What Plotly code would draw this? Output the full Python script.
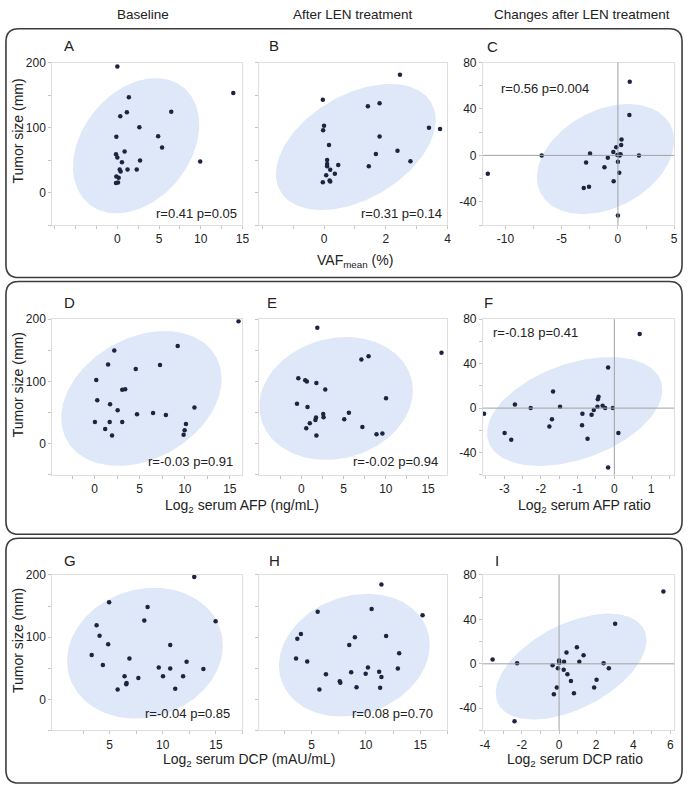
import numpy as np
import plotly.graph_objects as go

W, H = 692, 786

# ---------------- data ----------------
A_x = [0, 13.9, 1.38, 1.14, 0.35, 6.46, 2.64, -0.12, 4.89, 5.36, 0.87, -0.16, 0, 2.72, 0.55, 9.93, 0.28, 0.39, 1.22, 2.32, -0.12, 0.16, 0.08, -0.16]
A_y = [193.9, 153.2, 146.6, 123.3, 117.2, 124.3, 100.5, 85.7, 86.7, 69.4, 63.3, 58.7, 53.7, 49.1, 46.5, 47.6, 35.4, 32.3, 35.4, 35.4, 24.7, 22.7, 15.5, 14.5]

B_x = [2.46, -0.04, 1.42, 1.80, 0, -0.03, 3.40, 3.76, 1.80, 0.16, 1.68, 2.38, 0.1, 2.80, 0.1, 0.46, 0.1, 1.45, 0.2, 0.35, 0.07, -0.04, 0.18, 0.2]
B_y = [181.3, 142.8, 132.9, 137.5, 102.9, 95.9, 99.8, 97.9, 86.1, 73, 59.3, 64.3, 50.1, 48, 44, 42.5, 40.4, 40.4, 34.9, 28.8, 26.7, 16, 18.6, 17.1]

C_x = [1.05, 1.02, -11.57, -6.78, 0.32, 0.29, -0.15, -0.41, -2.48, -0.9, 0.09, 0.23, 0.15, 1.87, -2.83, 0, -1.2, 0.12, -0.38, -2.57, -3.04, 0, -0.05]
C_y = [63.5, 34.8, -15.9, 0, 13.7, 8.9, 6.9, 2.9, 1.7, -2, 0.6, 0.9, -0.2, 0, -6.2, -5.4, -10.2, -15, -22.2, -27, -28.2, -51.7, 0.3]

D_x = [15.96, 9.21, 2.18, 1.49, 7.25, 4.56, 0.18, 3.06, 3.39, 0.29, 1.71, 11.07, 2.55, 4.7, 6.48, 7.9, 0.03, 1.67, 3.06, 10.13, 1.17, 9.98, 9.87, 1.93]
D_y = [196.5, 157, 149.5, 127.2, 126.3, 119.9, 102.4, 86.5, 87.4, 69.9, 63.5, 58.3, 53.5, 47.1, 49.2, 46, 34.9, 34.9, 34.9, 31.7, 23.7, 21.7, 14.2, 13.2]

E_x = [1.88, 16.59, 7.1, 7.95, -0.37, 0.45, 0.64, 1.77, 2.82, 10.02, -0.53, 0.72, 2.58, 2.62, 5.62, 5.07, 1.73, 1.65, 0.99, 7.22, 0.57, 8.89, 9.59, 1.77]
E_y = [186.2, 145.9, 135.2, 140.6, 105, 101.8, 99.7, 97.6, 87, 73.1, 64.2, 58.8, 47.6, 42.4, 49.8, 39.2, 41.9, 38.1, 32.8, 26.9, 24.8, 15.3, 16.4, 13.2]

F_x = [0.69, -0.17, -1.67, -0.43, -0.45, -2.71, -2.28, -1.48, -0.32, -0.46, -0.25, -0.04, -0.56, -3.55, -0.87, -0.62, -1.7, -0.88, -1.77, -2.99, 0.11, -0.73, -2.81, -0.17]
F_y = [66.6, 36.6, 14.9, 10.2, 8, 3.3, 0, 1.3, 2.2, 1.3, 0, 0, -1.8, -5, -5, -5.9, -10.1, -15.4, -16.6, -22.5, -22.5, -27.6, -28.5, -53.5]

G_x = [12.96, 4.95, 8.57, 14.97, 8.26, 3.77, 4.05, 4.86, 10.7, 3.31, 6.86, 12.24, 4.36, 9.62, 10.7, 13.82, 6.4, 7.7, 10.02, 11.91, 6.59, 6.56, 5.75, 11.17]
G_y = [196.8, 155.9, 148.6, 125.6, 126.8, 119.3, 102.4, 88.5, 87.4, 71.5, 65.8, 60.4, 55.1, 51.4, 49.8, 48.7, 37.1, 34.4, 37.1, 37.1, 26.4, 24.4, 15.8, 16.9]

H_x = [11.43, 5.57, 10.53, 15.21, 4.03, 3.7, 8.99, 11.86, 8.47, 3.58, 13.06, 4.61, 10.19, 12.94, 6.33, 8.65, 9.98, 11.22, 11.43, 7.6, 7.65, 5.73, 9.14, 11.31]
H_y = [184.6, 140.6, 145.4, 135.2, 104.9, 97.6, 99.7, 101.8, 87.4, 65.8, 74.2, 61, 51.4, 49.8, 40.3, 43.5, 41.2, 44.4, 36, 29.1, 26.9, 15.8, 19.6, 18.5]

I_x = [5.62, 3.02, -3.58, -2.26, 0.96, 0.4, 1.32, 0.0, 0.27, 1.09, 0.01, 2.4, -0.35, -0.06, 2.68, 0.25, 0.45, 0.64, 2.02, -0.12, 1.89, -0.28, 0.8, -2.4]
I_y = [65.1, 36, 3.9, 0.6, 14.9, 10.2, 7.8, 3, 1.8, 1.8, 0.9, 0.6, -1.4, -4.1, -4.1, -5.3, -9.4, -15.4, -14.3, -21.4, -21.4, -27.3, -26.4, -51.7]

# density ellipses: centre x, centre y, half-extent x, half-extent y, correlation
A_ell = [2.25, 72, 7.57, 104, 0.31]
B_ell = [1.03, 70, 2.59, 97, 0.43]
C_ell = [-1.1, -3.2, 6.1, 47.4, 0.33]
D_ell = [5.19, 72.6, 8.9, 108.3, 0.29]
E_ell = [4.1, 72.6, 9.1, 98.7, 0.13]
F_ell = [-1.08, -3.0, 2.39, 49, 0.40]
G_ell = [8.32, 74.2, 7.33, 105.1, 0.12]
H_ell = [8.94, 71, 6.93, 98.7, 0.17]
I_ell = [0.65, -2.5, 4.06, 47.7, 0.50]

stats = ["r=0.41 p=0.05", "r=0.31 p=0.14", "r=0.56 p=0.004",
         "r=-0.03 p=0.91", "r=-0.02 p=0.94", "r=-0.18 p=0.41",
         "r=-0.04 p=0.85", "r=0.08 p=0.70", ""]
letters = ["A", "B", "C", "D", "E", "F", "G", "H", "I"]
col_headers = ["Baseline", "After LEN treatment", "Changes after LEN treatment"]

# tick values (labelled, minor)
Y12_major = [0, 100, 200]
Y12_minor = [-50, 50, 150]
Y3_major = [-40, 0, 40, 80]
Y3_minor = [-60, -20, 20, 60]

A_xt = ([0, 5, 10, 15], [-7.5, -5, -2.5, 2.5, 7.5, 12.5])
B_xt = ([0, 2, 4], [-2, -1, 1, 3])
C_xt = ([-10, -5, 0, 5], [-7.5, -2.5, 2.5])
D_xt = ([0, 5, 10, 15], [-2.5, 2.5, 7.5, 12.5])
E_xt = ([0, 5, 10, 15], [-2.5, 2.5, 7.5, 12.5])
F_xt = ([-3, -2, -1, 0, 1], [-3.5, -2.5, -1.5, -0.5, 0.5, 1.5])
G_xt = ([5, 10, 15], [2.5, 7.5, 12.5, 17.5])
H_xt = ([5, 10, 15], [2.5, 7.5, 12.5, 17.5])
I_xt = ([-4, -2, 0, 2, 4, 6], [-3, -1, 1, 3, 5])

x_ranges = [[-7.8, 15], [-2.1, 4], [-12, 5],
            [-4.7, 16.4], [-5, 17.3], [-3.58, 1.63],
            [-0.4, 17.5], [0.2, 17.5], [-4.1, 6.2]]

# ---------------- layout geometry (pixels) ----------------
col_px = [(50, 243), (260, 451), (487, 681)]
row_px = [(56, 220), (315, 472), (573, 730)]


def X(p):
    return p / W


def Y(p):
    return 1 - p / H


def lab(v):
    return f"{v:g}"


FONT = "Liberation Sans, Arial, sans-serif"
DOT = "#1c2440"
ELL = "#dfe8f9"
TXT = "#222222"

panels = [
    (A_x, A_y, A_ell, A_xt), (B_x, B_y, B_ell, B_xt), (C_x, C_y, C_ell, C_xt),
    (D_x, D_y, D_ell, D_xt), (E_x, E_y, E_ell, E_xt), (F_x, F_y, F_ell, F_xt),
    (G_x, G_y, G_ell, G_xt), (H_x, H_y, H_ell, H_xt), (I_x, I_y, I_ell, I_xt),
]

fig = go.Figure()
layout = dict(width=W, height=H, autosize=False, margin=dict(l=0, r=0, t=0, b=0),
              paper_bgcolor="white", plot_bgcolor="white", showlegend=False,
              font=dict(family=FONT, color=TXT))
shapes = []
annotations = []

TICKC = "#c4c4c4"
t = np.linspace(0, 2 * np.pi, 181)
for k, (px_, py_, ell, xt) in enumerate(panels):
    i = k + 1
    r, c = divmod(k, 3)
    xa = "x" if i == 1 else f"x{i}"
    ya = "y" if i == 1 else f"y{i}"
    cx, cy, hx, hy, rho = ell
    ex = cx + hx * np.cos(t)
    ey = cy + hy * (rho * np.cos(t) + np.sqrt(1 - rho ** 2) * np.sin(t))
    fig.add_trace(go.Scatter(x=ex, y=ey, mode="lines", fill="toself", fillcolor=ELL,
                             line=dict(width=0, color=ELL), hoverinfo="skip",
                             xaxis=xa, yaxis=ya))
    fig.add_trace(go.Scatter(x=px_, y=py_, mode="markers",
                             marker=dict(size=4.5, color=DOT), xaxis=xa, yaxis=ya))
    c0, c1 = col_px[c]
    r0, r1 = row_px[r]
    ymaj, ymin = (Y3_major, Y3_minor) if c == 2 else (Y12_major, Y12_minor)
    yr = [-60, 80] if c == 2 else [-50, 200]
    axcommon = dict(showgrid=False, zeroline=False, showline=True, mirror=True,
                    linecolor="#dedede", linewidth=1, ticks="outside", ticklen=3,
                    tickcolor=TICKC, tickfont=dict(size=12, color=TXT, family=FONT))
    minor_x = dict(tickmode="array", tickvals=xt[1], ticks="outside", ticklen=3,
                   tickcolor=TICKC, showgrid=False)
    minor_y = dict(tickmode="array", tickvals=ymin, ticks="outside", ticklen=3,
                   tickcolor=TICKC, showgrid=False)
    layout["xaxis" + ("" if i == 1 else str(i))] = dict(
        domain=[X(c0), X(c1)], range=x_ranges[k], anchor=ya,
        tickmode="array", tickvals=xt[0], ticktext=[lab(v) for v in xt[0]],
        minor=minor_x, **axcommon)
    layout["yaxis" + ("" if i == 1 else str(i))] = dict(
        domain=[Y(r1), Y(r0)], range=yr, anchor=xa,
        tickmode="array", tickvals=ymaj, ticktext=[lab(v) for v in ymaj],
        showticklabels=(c != 1), minor=minor_y, **axcommon)
    if c == 2:
        shapes.append(dict(type="line", xref=xa, yref=ya + " domain", x0=0, x1=0, y0=0, y1=1,
                           line=dict(color="#a0a0a0", width=1), layer="above"))
        shapes.append(dict(type="line", xref=xa + " domain", yref=ya, x0=0, x1=1, y0=0, y1=0,
                           line=dict(color="#a0a0a0", width=1), layer="above"))
    if c == 0:
        annotations.append(dict(text="Tumor size (mm)", xref="paper", yref=ya, x=X(15), y=95,
                                textangle=-90, showarrow=False, xanchor="center", yanchor="middle",
                                font=dict(size=14, color=TXT)))

letter_pos = [(67, 39), (275, 39), (497, 40), (67, 298), (273, 298), (493, 298),
              (68, 558), (275, 558), (501, 558)]
for L, (lx, ly) in zip(letters, letter_pos):
    annotations.append(dict(text=L, xref="paper", yref="paper", x=X(lx), y=Y(ly),
                            showarrow=False, xanchor="center", yanchor="middle",
                            font=dict(size=15, color=TXT)))

stat_pos = [(239, 208, "right"), (447, 208, "right"), (503, 82, "left"),
            (235, 459, "right"), (443, 459, "right"), (495, 328, "left"),
            (232, 713, "right"), (438, 713, "right"), (0, 0, "left")]
for s, (sx, sy, anc) in zip(stats, stat_pos):
    if s:
        annotations.append(dict(text=s, xref="paper", yref="paper", x=X(sx), y=Y(sy),
                                showarrow=False, xanchor=anc, yanchor="middle",
                                font=dict(size=13, color=TXT)))

for h, hx in zip(col_headers, [142, 355, 587]):
    annotations.append(dict(text=h, xref="paper", yref="paper", x=X(hx), y=Y(8),
                            showarrow=False, xanchor="center", yanchor="middle",
                            font=dict(size=13.5, color=TXT)))

xtitles = [("VAF<sub>mean</sub> (%)", 357, 256),
           ("Log<sub>2</sub> serum AFP (ng/mL)", 243, 503),
           ("Log<sub>2</sub> serum AFP ratio", 590, 503),
           ("Log<sub>2</sub> serum DCP (mAU/mL)", 250, 760),
           ("Log<sub>2</sub> serum DCP ratio", 580, 760)]
for txt, tx, ty in xtitles:
    annotations.append(dict(text=txt, xref="paper", yref="paper", x=X(tx), y=Y(ty),
                            showarrow=False, xanchor="center", yanchor="middle",
                            font=dict(size=14, color=TXT)))


def rrect(x0, y0, x1, y1, rad):
    return (f"M {X(x0+rad)},{Y(y0)} L {X(x1-rad)},{Y(y0)} Q {X(x1)},{Y(y0)} {X(x1)},{Y(y0+rad)} "
            f"L {X(x1)},{Y(y1-rad)} Q {X(x1)},{Y(y1)} {X(x1-rad)},{Y(y1)} "
            f"L {X(x0+rad)},{Y(y1)} Q {X(x0)},{Y(y1)} {X(x0)},{Y(y1-rad)} "
            f"L {X(x0)},{Y(y0+rad)} Q {X(x0)},{Y(y0)} {X(x0+rad)},{Y(y0)} Z")


for (fy0, fy1) in [(22, 273), (277, 532), (536, 783)]:
    shapes.append(dict(type="path", xref="paper", yref="paper", path=rrect(3, fy0, 689, fy1, 13),
                       line=dict(color="#3c3c3c", width=1.6), fillcolor="rgba(0,0,0,0)", layer="above"))

layout["shapes"] = shapes
layout["annotations"] = annotations
fig.update_layout(**layout)
fig.write_html("out.html", config={"displayModeBar": False},
               post_script="document.body.style.margin='0px';document.documentElement.style.overflow='hidden';")
